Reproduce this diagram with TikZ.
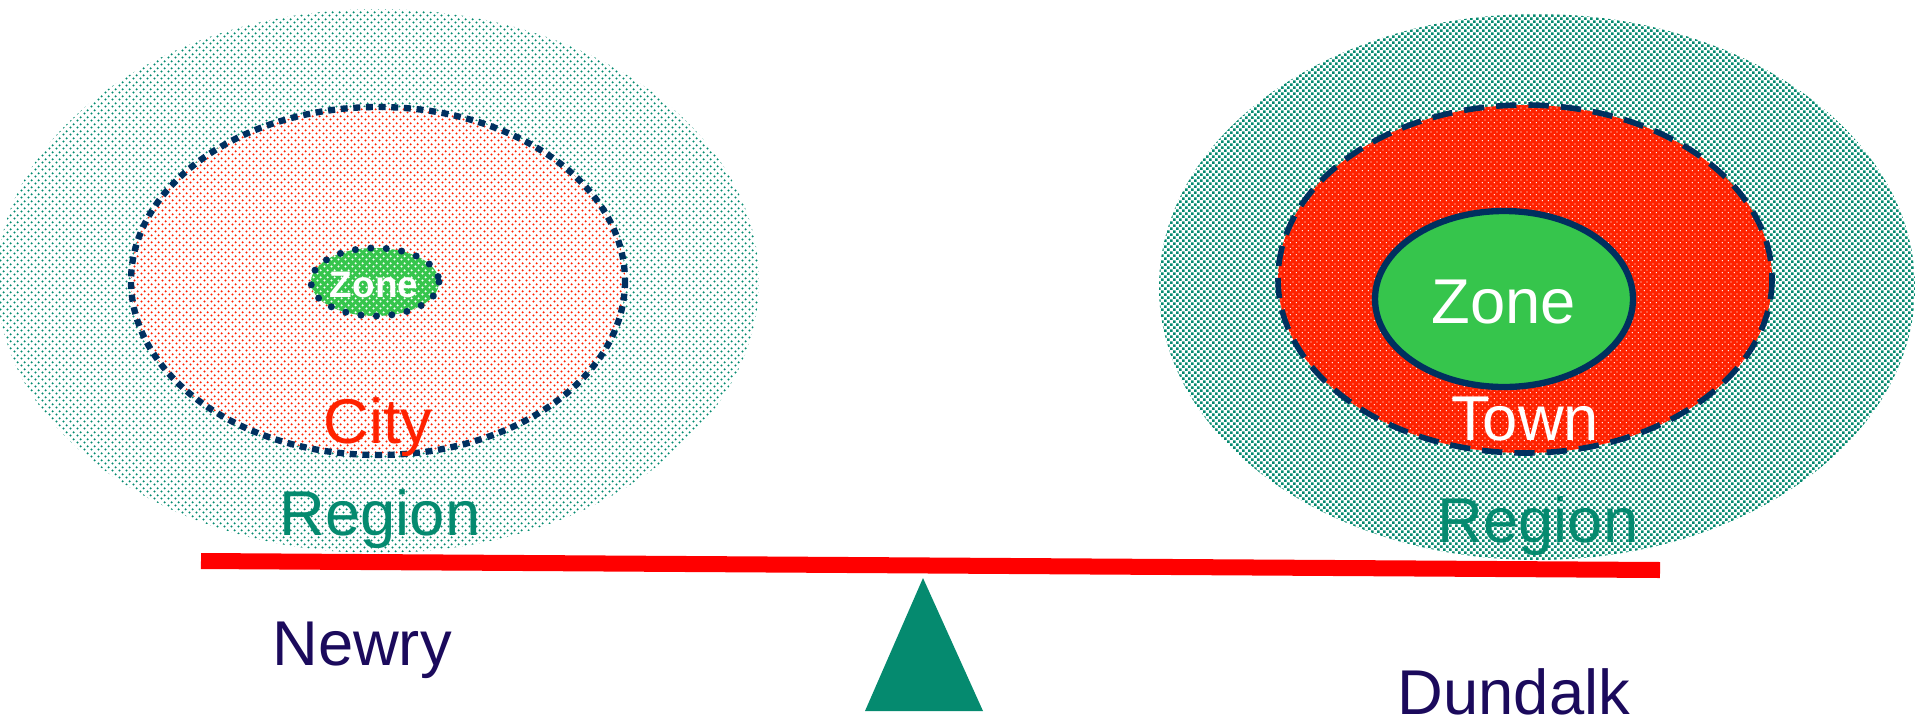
\documentclass[tikz,border=0pt]{standalone}
\usepackage{fontspec}
\setmainfont{Liberation Sans}
\usepackage{tikz}
\usetikzlibrary{patterns}
\definecolor{navyc}{HTML}{00305F}
\definecolor{tealc}{HTML}{058A6F}
\definecolor{redc}{HTML}{FF2200}
\definecolor{beamc}{HTML}{FF0000}
\definecolor{greenc}{HTML}{36C54C}
\definecolor{inkc}{HTML}{1B0A5C}
% halftone fills
\pgfdeclarepatternformonly{fine dots}{\pgfqpoint{0pt}{0pt}}{\pgfqpoint{2pt}{2pt}}{\pgfqpoint{2pt}{2pt}}{%
  \pgfpathcircle{\pgfqpoint{0.5pt}{0.5pt}}{0.36pt}%
  \pgfpathcircle{\pgfqpoint{1.5pt}{1.5pt}}{0.36pt}%
  \pgfusepath{fill}}
\pgfdeclarepatternformonly{fat dots}{\pgfqpoint{0pt}{0pt}}{\pgfqpoint{1.8pt}{1.8pt}}{\pgfqpoint{1.8pt}{1.8pt}}{%
  \pgfpathrectangle{\pgfqpoint{0.05pt}{0.05pt}}{\pgfqpoint{0.8pt}{0.8pt}}%
  \pgfpathrectangle{\pgfqpoint{0.95pt}{0.95pt}}{\pgfqpoint{0.8pt}{0.8pt}}%
  \pgfusepath{fill}}
\pgfdeclarepatternformonly{tiny dots}{\pgfqpoint{0pt}{0pt}}{\pgfqpoint{1.6pt}{1.6pt}}{\pgfqpoint{1.6pt}{1.6pt}}{%
  \pgfpathcircle{\pgfqpoint{0.4pt}{0.4pt}}{0.2pt}%
  \pgfpathcircle{\pgfqpoint{1.2pt}{1.2pt}}{0.2pt}%
  \pgfusepath{fill}}
\tikzset{
  lbl/.style={font=\fontsize{18}{21}\selectfont,inner sep=0pt,anchor=base},
  citybdr/.style={draw=navyc,line width=1.8pt,dash pattern=on 2pt off 1.6pt},
  zonebdr/.style={draw=navyc,line width=2pt,line cap=round,dash pattern=on 0pt off 4.4pt},
  townbdr/.style={draw=navyc,line width=1.6pt,dash pattern=on 5.8pt off 3.4pt},
  beam/.style={draw=beamc,line width=1.6mm}
}
\begin{document}
\begin{tikzpicture}[x=0.01cm,y=-0.01cm]
\useasboundingbox (0,0) rectangle (1915,724);
% Newry side
\fill[pattern=fine dots,pattern color=tealc] (378,281) ellipse [x radius=381,y radius=272];
\fill[white] (378,281) ellipse [x radius=247,y radius=174];
\fill[pattern=fine dots,pattern color=redc] (378,281) ellipse [x radius=247,y radius=174];
\draw[citybdr] (378,281) ellipse [x radius=247,y radius=174];
\fill[greenc] (375,282) ellipse [x radius=64,y radius=34];
\fill[pattern=fine dots,pattern color=white] (375,282) ellipse [x radius=64,y radius=34];
\draw[zonebdr] (375,282) ellipse [x radius=64,y radius=34];
\node[lbl,text=white,font=\fontsize{10.5}{12}\selectfont\bfseries] (zonel) at (374,297) {Zone};
\node[lbl,text=redc] (city) at (378,443) {City};
\node[lbl,text=tealc] (regl) at (380,535) {Region};
% Dundalk side
\fill[white] (1537,287) ellipse [x radius=378,y radius=273];
\fill[pattern=fat dots,pattern color=tealc] (1537,287) ellipse [x radius=378,y radius=273];
\fill[redc] (1525,279) ellipse [x radius=247,y radius=174];
\fill[pattern=tiny dots,pattern color=white] (1525,279) ellipse [x radius=247,y radius=174];
\draw[townbdr] (1525,279) ellipse [x radius=247,y radius=174];
\fill[greenc,draw=navyc,line width=1.8pt] (1504,299) ellipse [x radius=129,y radius=88];
\node[lbl,text=white] (zoner) at (1504,323) {Zone};
\node[lbl,text=white] (town) at (1525,440) {Town};
\node[lbl,text=tealc] (regr) at (1538,542) {Region};
% balance
\draw[beam] (201,561) -- (1660,570);
\fill[tealc] (923,578) -- (983,711) -- (865,711) -- cycle;
\node[lbl,text=inkc] (newry) at (362,665) {Newry};
\node[lbl,text=inkc] (dundalk) at (1514,714) {Dundalk};
\end{tikzpicture}
\end{document}
